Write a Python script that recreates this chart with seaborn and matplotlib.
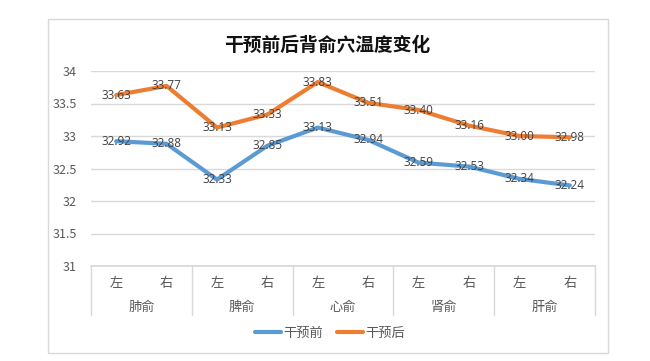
import matplotlib
matplotlib.use("Agg")
import matplotlib.pyplot as plt
import matplotlib.transforms as mtransforms
import seaborn as sns
import pandas as pd
from matplotlib.patches import Rectangle
from matplotlib.lines import Line2D

sides = ['左', '右', '左', '右', '左', '右', '左', '右', '左', '右']
acupoints = ['肺俞', '脾俞', '心俞', '肾俞', '肝俞']
pre = [32.92, 32.88, 32.33, 32.85, 33.13, 32.94, 32.59, 32.53, 32.34, 32.24]
post = [33.63, 33.77, 33.13, 33.33, 33.83, 33.51, 33.40, 33.16, 33.00, 32.98]
series_names = ['干预前', '干预后']
yticks = [31, 31.5, 32, 32.5, 33, 33.5, 34]
ytick_labels = ['31', '31.5', '32', '32.5', '33', '33.5', '34']

sns.set_theme(style="white")
plt.rcParams['font.family'] = ['Noto Sans CJK SC', 'DejaVu Sans']

df = pd.DataFrame({
    'pos': list(range(len(pre))) * 2,
    'value': pre + post,
    'series': [series_names[0]] * len(pre) + [series_names[1]] * len(post),
})

colors = {'干预前': '#5B9BD5', '干预后': '#ED7D31'}

fig = plt.figure(figsize=(6.5, 3.61), dpi=100)
fig.patch.set_facecolor('white')
# chart frame
fig.patches.append(Rectangle((48 / 650, 1 - 353 / 361), (608 - 48) / 650, (353 - 19) / 361,
                             transform=fig.transFigure, fill=False, edgecolor='#d9d9d9', lw=1))

ax = fig.add_axes([91 / 650, (361 - 266) / 361, (595 - 91) / 650, (266 - 71) / 361])
sns.lineplot(data=df, x='pos', y='value', hue='series', palette=colors, ax=ax,
             linewidth=3, legend=False, sort=False)

ax.set_xlim(-0.5, len(pre) - 0.5)
ax.set_ylim(31, 34)
ax.set_yticks(yticks)
ax.set_yticklabels(ytick_labels)
ax.yaxis.grid(True, color='#d9d9d9', lw=1)
ax.set_axisbelow(True)
for s in ['top', 'right', 'left']:
    ax.spines[s].set_visible(False)
ax.spines['bottom'].set_color('#d9d9d9')
ax.tick_params(axis='y', length=0, pad=10, labelsize=9, labelcolor='#595959')
ax.set_xticks(range(len(sides)))
ax.set_xticklabels(sides)
ax.tick_params(axis='x', length=0, pad=8, labelsize=9.5, labelcolor='#595959')
ax.set_xlabel('')
ax.set_ylabel('')

# data labels
for vals in (pre, post):
    for i, v in enumerate(vals):
        ax.text(i, v, f'{v:.2f}', ha='center', va='center', fontsize=8.5,
                color='#404040', family=['Open Sans', 'DejaVu Sans'])

# group labels and separators
trans = mtransforms.blended_transform_factory(ax.transData, ax.transAxes)
h = 266 - 71
sep_bottom = -(315 - 266) / h
for g in range(len(acupoints) + 1):
    x = g * 2 - 0.5
    ax.plot([x, x], [0, sep_bottom], transform=trans, color='#d9d9d9', lw=1, clip_on=False)
for g, name in enumerate(acupoints):
    ax.text(g * 2 + 0.5, -(307 - 266) / h, name, transform=trans, ha='center', va='center',
            fontsize=9.5, color='#595959')

# title
fig.text(327 / 650, 1 - 45 / 361, '干预前后背俞穴温度变化', ha='center', va='center',
         fontsize=13.5, fontweight='bold', color='#111111')

# legend
handles = [Line2D([0], [0], color=colors[n], lw=3) for n in series_names]
fig.legend(handles, series_names, loc='center', bbox_to_anchor=(330 / 650, 1 - 333 / 361),
           ncol=2, frameon=False, fontsize=9.5, handlelength=2.0, columnspacing=1.0,
           handletextpad=0.2, labelcolor='#595959')

fig.savefig('out.png', dpi=100)
